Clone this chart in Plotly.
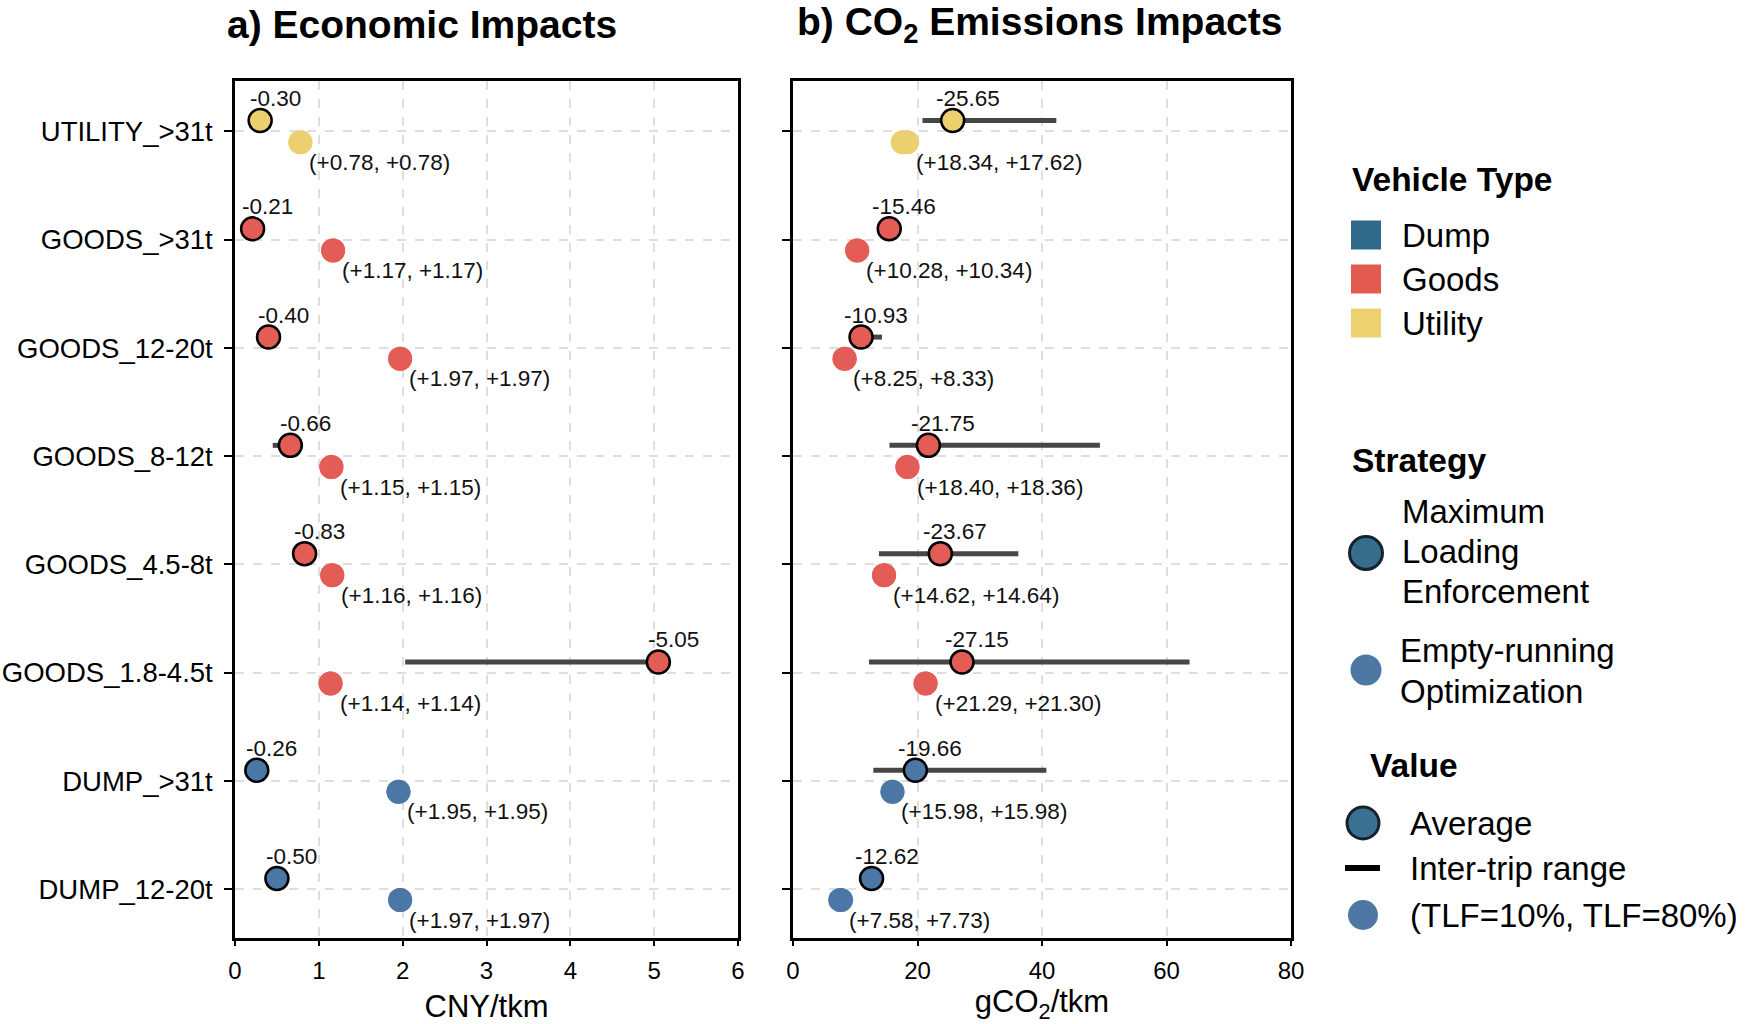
# vehicle strategy impacts - economic and CO2 panels
import plotly.graph_objects as go

# data
vehicles = ["UTILITY_>31t", "GOODS_>31t", "GOODS_12-20t", "GOODS_8-12t",
            "GOODS_4.5-8t", "GOODS_1.8-4.5t", "DUMP_>31t", "DUMP_12-20t"]
vtype = ["Utility", "Goods", "Goods", "Goods", "Goods", "Goods", "Dump", "Dump"]

econ_avg = [-0.30, -0.21, -0.40, -0.66, -0.83, -5.05, -0.26, -0.50]
econ_lo = [0.27, 0.18, 0.36, 0.45, 0.79, 2.03, 0.23, 0.46]
econ_hi = [0.33, 0.24, 0.44, 0.70, 0.87, 5.10, 0.29, 0.54]
econ_tlf10 = [0.78, 1.17, 1.97, 1.15, 1.16, 1.14, 1.95, 1.97]
econ_tlf80 = [0.78, 1.17, 1.97, 1.15, 1.16, 1.14, 1.95, 1.97]

co2_avg = [-25.65, -15.46, -10.93, -21.75, -23.67, -27.15, -19.66, -12.62]
co2_lo = [20.8, 14.0, 9.5, 15.5, 13.8, 12.2, 12.9, 11.0]
co2_hi = [42.3, 17.0, 14.3, 49.3, 36.2, 63.7, 40.7, 14.0]
co2_tlf10 = [18.34, 10.28, 8.25, 18.40, 14.62, 21.29, 15.98, 7.58]
co2_tlf80 = [17.62, 10.34, 8.33, 18.36, 14.64, 21.30, 15.98, 7.73]

type_names = ["Dump", "Goods", "Utility"]
point_colors = {"Dump": "#4a77a5", "Goods": "#e35d56", "Utility": "#ecd06f"}
legend_colors = {"Dump": "#2f6a8b", "Goods": "#e25a50", "Utility": "#edd070"}

W, H = 1750, 1024
FONT = "Liberation Sans, Arial, sans-serif"
rows = list(range(len(vehicles)))
cols = [point_colors[t] for t in vtype]

fig = go.Figure()
annotations = []


def add_panel(xa, ya, avg, lo, hi, t10, t80):
    y_avg = [r - 0.1 for r in rows]
    y_tlf = [r + 0.1 for r in rows]
    # inter-trip ranges
    lx, ly = [], []
    for i in rows:
        lx += [lo[i], hi[i], None]
        ly += [y_avg[i], y_avg[i], None]
    fig.add_trace(go.Scatter(x=lx, y=ly, mode="lines", xaxis=xa, yaxis=ya,
                             line=dict(color="rgba(60,60,60,0.95)", width=5),
                             showlegend=False, hoverinfo="skip"))
    # TLF points
    for vals in (t10, t80):
        fig.add_trace(go.Scatter(x=vals, y=y_tlf, mode="markers", xaxis=xa, yaxis=ya,
                                 marker=dict(size=24, color=cols, line=dict(width=0)),
                                 showlegend=False))
    # averages
    fig.add_trace(go.Scatter(x=[abs(v) for v in avg], y=y_avg, mode="markers",
                             xaxis=xa, yaxis=ya,
                             marker=dict(size=23, color=cols,
                                         line=dict(color="black", width=2.5)),
                             showlegend=False))
    for i in rows:
        annotations.append(dict(x=abs(avg[i]), y=y_avg[i], xref=xa, yref=ya,
                                text=f"{avg[i]:.2f}", showarrow=False,
                                xanchor="center", yanchor="middle",
                                xshift=15, yshift=22,
                                font=dict(size=22.5, color="#111", family=FONT)))
        annotations.append(dict(x=t10[i], y=y_tlf[i], xref=xa, yref=ya,
                                text=f"(+{t10[i]:.2f}, +{t80[i]:.2f})", showarrow=False,
                                xanchor="left", yanchor="middle",
                                xshift=7, yshift=-20,
                                font=dict(size=22.5, color="#111", family=FONT)))


add_panel("x", "y", econ_avg, econ_lo, econ_hi, econ_tlf10, econ_tlf80)
add_panel("x2", "y2", co2_avg, co2_lo, co2_hi, co2_tlf10, co2_tlf80)

# panel titles
annotations.append(dict(x=422 / W, y=1 - 24 / H, xref="paper", yref="paper",
                        xanchor="center", yanchor="middle",
                        text="<b>a) Economic Impacts</b>", showarrow=False,
                        font=dict(size=39, color="black", family=FONT)))
annotations.append(dict(x=1039 / W, y=1 - 24 / H, xref="paper", yref="paper",
                        xanchor="center", yanchor="middle",
                        text="<b>b) CO<sub>2</sub> Emissions Impacts</b>", showarrow=False,
                        font=dict(size=39, color="black", family=FONT)))

# legend (drawn by hand)
shapes = []


def ptext(x, y, text, size=33, bold=False):
    annotations.append(dict(x=x / W, y=1 - y / H, xref="paper", yref="paper",
                            text=f"<b>{text}</b>" if bold else text, showarrow=False,
                            xanchor="left", yanchor="middle",
                            font=dict(size=size, color="black", family=FONT)))


def pcircle(cx, cy, d, fill, edge=None):
    shapes.append(dict(type="circle", xref="paper", yref="paper",
                       x0=(cx - d / 2) / W, x1=(cx + d / 2) / W,
                       y0=1 - (cy + d / 2) / H, y1=1 - (cy - d / 2) / H,
                       fillcolor=fill,
                       line=dict(color=edge or fill, width=3 if edge else 0)))


def prect(x0, x1, y0, y1, fill):
    shapes.append(dict(type="rect", xref="paper", yref="paper",
                       x0=x0 / W, x1=x1 / W, y0=1 - y1 / H, y1=1 - y0 / H,
                       fillcolor=fill, line=dict(width=0)))


ptext(1350, 179, "Vehicle Type", size=33.5, bold=True)
for k, name in enumerate(type_names):
    cy = 235 + 44 * k
    prect(1351, 1381, cy - 14.5, cy + 14.5, legend_colors[name])
    ptext(1400, cy, name)

ptext(1350, 460, "Strategy", size=33.5, bold=True)
pcircle(1366, 553, 33, "#356d8b", "#15232c")
for k, line in enumerate(["Maximum", "Loading", "Enforcement"]):
    ptext(1400, 511 + 40 * k, line)
pcircle(1366, 670, 31, "#4e77a4")
for k, line in enumerate(["Empty-running", "Optimization"]):
    ptext(1398, 650 + 41 * k, line)

ptext(1368, 765, "Value", size=33.5, bold=True)
pcircle(1363, 823, 32, "#3a7091", "#15232c")
ptext(1408, 823, "Average")
prect(1345, 1380, 865, 871, "black")
ptext(1408, 868, "Inter-trip range")
pcircle(1363, 915, 30, "#4e77a4")
ptext(1408, 915, "(TLF=10%, TLF=80%)")

# axes
y_dom = [1 - 938 / H, 1 - 80.5 / H]
common_x = dict(showline=True, linecolor="black", linewidth=2.5, mirror=True,
                ticks="outside", ticklen=5, tickwidth=1.5, tickcolor="black",
                showgrid=True, gridcolor="#dedede", griddash="dash", gridwidth=1.5,
                zeroline=False, automargin=False,
                tickfont=dict(size=24, color="black", family=FONT))
common_y = dict(common_x, tickvals=rows, ticktext=vehicles, range=[7.45, -0.47])

fig.update_layout(
    width=W, height=H,
    margin=dict(l=0, r=0, t=0, b=0),
    paper_bgcolor="white", plot_bgcolor="white",
    font=dict(family=FONT, color="black"),
    showlegend=False,
    xaxis=dict(common_x, domain=[235 / W, 738 / W], range=[0, 6], dtick=1,
               anchor="y", ticklabelstandoff=4,
               title=dict(text="CNY/tkm", standoff=17,
                          font=dict(size=31, color="black", family=FONT))),
    yaxis=dict(common_y, domain=y_dom, anchor="x", ticklabelstandoff=6, ticklen=8,
               tickfont=dict(size=27.5, color="black", family=FONT)),
    xaxis2=dict(common_x, domain=[793 / W, 1291 / W], range=[0, 80], dtick=20,
                anchor="y2", ticklabelstandoff=4,
                title=dict(text="gCO<sub>2</sub>/tkm", standoff=17,
                           font=dict(size=31, color="black", family=FONT))),
    yaxis2=dict(common_y, domain=y_dom, anchor="x2", showticklabels=False, ticklen=8),
    annotations=annotations,
    shapes=shapes,
)

# page has a default 8px body margin; drop it so the figure fills the window
fig.write_html("out.html", config={"displayModeBar": False},
               post_script="document.body.style.margin='0';")
